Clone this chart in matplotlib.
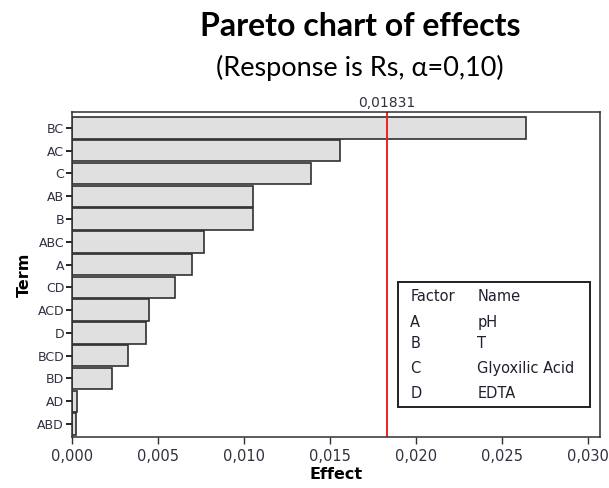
import matplotlib
matplotlib.use("Agg")
import matplotlib.pyplot as plt
from matplotlib.patches import Rectangle
from matplotlib.ticker import FuncFormatter
import numpy as np

# Pareto chart of standardized effects (Minitab style)
terms = ['BC', 'AC', 'C', 'AB', 'B', 'ABC', 'A', 'CD', 'ACD', 'D', 'BCD', 'BD', 'AD', 'ABD']
effects = [0.02639, 0.01555, 0.01386, 0.0105, 0.0105, 0.00768, 0.00698,
           0.00597, 0.00446, 0.00428, 0.00325, 0.0023, 0.00028, 0.00022]
limit = 0.01831
xticks = [0.000, 0.005, 0.010, 0.015, 0.020, 0.025, 0.030]

factors = ['A', 'B', 'C', 'D']
names = ['pH', 'T', 'Glyoxilic Acid', 'EDTA']

fig = plt.figure(figsize=(6.09, 4.88), dpi=100)
ax = fig.add_axes([0.119, 0.1045, 0.866, 0.666])

y = np.arange(len(terms))
ax.barh(y, effects, height=0.94, color='#e0e0e0', edgecolor='#303030', linewidth=1.2)
ax.axvline(limit, color='#ee2020', linewidth=1.4)

ax.set_yticks(y)
ax.set_yticklabels(terms, fontsize=9, color='#303040')
ax.set_ylim(13.57, -0.70)
ax.set_xlim(0, 0.0307)
ax.set_xticks(xticks)
ax.xaxis.set_major_formatter(FuncFormatter(lambda v, p: ('%.3f' % v).replace('.', ',')))
ax.tick_params(axis='x', labelsize=10.5, colors='#303040', length=5, width=1)
ax.tick_params(axis='y', length=4, width=1.2, pad=2)
for s in ax.spines.values():
    s.set_color('#303030')
    s.set_linewidth(1.1)

ax.set_xlabel('Effect', fontsize=11.5, fontweight='bold', labelpad=2)
ax.set_ylabel('Term', fontsize=11.5, fontweight='bold', labelpad=4)

ax.text(limit, 1.005, ('%.5f' % limit).replace('.', ','), transform=ax.get_xaxis_transform(),
        ha='center', va='bottom', fontsize=10, color='#303040')

# factor legend box
ax.add_patch(Rectangle((0.6165, 0.0914), 0.3645, 0.3866, transform=ax.transAxes,
                       facecolor='white', edgecolor='#202020', linewidth=1.4, zorder=5))
rows = [('Factor', 'Name')] + list(zip(factors, names))
ys = [0.4338, 0.3529, 0.2862, 0.2114, 0.1345]
for (f, n), yy in zip(rows, ys):
    ax.text(0.6403, yy, f, transform=ax.transAxes, va='center', fontsize=10.5, color='#202030', zorder=6)
    ax.text(0.7674, yy, n, transform=ax.transAxes, va='center', fontsize=10.5, color='#202030', zorder=6)

fig.text(0.591, 0.945, 'Pareto chart of effects', ha='center', va='center',
         fontsize=23, fontweight='bold', family='Lato')
fig.text(0.591, 0.861, '(Response is Rs, \u03b1=0,10)', ha='center', va='center',
         fontsize=19.5, family='Lato')

fig.savefig('out.png', dpi=100)
